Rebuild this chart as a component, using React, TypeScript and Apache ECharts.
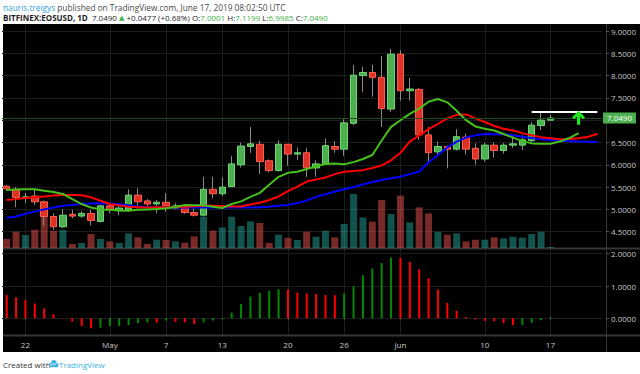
import React, { useEffect, useRef } from 'react';
import * as echarts from 'echarts';

// ---------- categories ----------
const dates = [
  'Apr 20','Apr 21','Apr 22','Apr 23','Apr 24','Apr 25','Apr 26','Apr 27','Apr 28','Apr 29','Apr 30',
  'May 1','May 2','May 3','May 4','May 5','May 6','May 7','May 8','May 9','May 10','May 11','May 12','May 13','May 14','May 15','May 16',
  'May 17','May 18','May 19','May 20','May 21','May 22','May 23','May 24','May 25','May 26','May 27','May 28','May 29','May 30','May 31',
  'Jun 1','Jun 2','Jun 3','Jun 4','Jun 5','Jun 6','Jun 7','Jun 8','Jun 9','Jun 10','Jun 11','Jun 12','Jun 13','Jun 14','Jun 15','Jun 16',
  'Jun 17','Jun 18','Jun 19','Jun 20','Jun 21','Jun 22'
];
const tickDates = ['Apr 22','May 1','May 7','May 13','May 20','May 26','Jun 1','Jun 10','Jun 17'];
const tickLabels = ['22','May','7','13','20','26','Jun','10','17'];

// ---------- EOSUSD daily candles (Apr 20 .. Jun 17) ----------
const opens = [
  5.52,5.45,5.27,5.30,5.17,4.84,4.61,4.89,4.85,4.91,
  4.73,5.08,4.97,4.99,5.32,5.19,5.12,5.16,5.03,5.08,
  4.93,4.87,5.45,5.35,5.51,6.00,6.41,6.46,6.09,5.87,
  6.46,6.24,6.27,5.93,6.02,6.41,6.35,6.93,8.00,8.07,
  7.96,7.25,8.48,7.66,7.69,6.67,6.29,6.41,6.35,6.62,
  6.37,6.13,6.44,6.32,6.44,6.44,6.54,6.88,7.0001
];
const closes = [
  5.46,5.27,5.28,5.17,4.84,4.61,4.87,4.85,4.91,4.75,
  5.08,4.99,5.03,5.32,5.17,5.12,5.16,5.08,5.08,4.93,
  4.87,5.45,5.35,5.50,6.02,6.42,6.47,6.07,5.87,6.46,
  6.24,6.27,5.93,6.02,6.43,6.35,6.94,8.01,8.07,7.96,
  7.26,8.48,7.66,7.70,6.67,6.27,6.41,6.35,6.63,6.35,
  6.13,6.44,6.32,6.44,6.47,6.56,6.89,7.00,7.049
];
const lows = [
  5.42,5.05,5.14,5.10,4.63,4.54,4.58,4.80,4.81,4.64,
  4.71,4.91,4.87,4.95,5.02,5.08,4.91,4.95,5.00,4.90,
  4.84,4.84,5.25,5.30,5.50,5.94,6.27,5.79,5.83,5.85,
  5.98,6.11,5.73,5.73,6.00,6.27,6.20,6.89,7.64,7.53,
  6.85,7.19,7.44,7.44,6.56,6.03,6.18,5.92,6.32,6.23,
  6.00,6.07,6.16,6.25,6.38,6.33,6.50,6.78,6.9985
];
const highs = [
  5.55,5.50,5.37,5.46,5.20,4.91,5.00,4.99,4.96,4.99,
  5.10,5.14,5.08,5.45,5.47,5.23,5.21,5.36,5.14,5.12,
  5.02,5.73,5.73,5.72,6.20,6.50,6.85,6.54,6.12,6.55,
  6.46,6.39,6.37,6.10,6.59,6.53,7.02,8.24,8.20,8.24,
  8.44,8.60,8.57,7.95,7.72,6.85,6.52,6.43,6.80,6.70,
  6.48,6.49,6.50,6.49,6.66,6.66,6.96,7.19,7.1199
];
const volumes = [
  0.90,1.63,1.30,1.83,3.56,1.73,1.80,0.40,0.50,1.40,
  0.90,0.66,0.50,1.46,1.06,0.40,0.83,0.80,0.66,0.53,
  1.16,3.13,1.73,2.06,3.13,2.20,2.66,2.50,0.50,1.33,
  1.00,0.80,1.63,1.13,1.73,1.06,2.40,5.40,3.06,2.63,
  4.80,3.40,5.23,2.56,4.06,3.46,1.63,1.33,1.46,0.66,
  0.83,0.83,1.06,0.96,1.13,1.03,1.40,1.63,0.10
];

// ---------- Williams Alligator (displaced) ----------
const lips = [
  5.435,5.446,5.45,5.45,5.42,5.39,5.345,5.23,5.12,5.04,
  5.00,4.99,4.975,4.97,4.99,5.00,5.01,5.025,5.055,5.10,
  5.09,5.09,5.06,5.03,5.12,5.18,5.28,5.37,5.55,5.73,
  5.82,5.845,5.905,5.96,6.02,6.03,6.01,6.06,6.13,6.22,
  6.545,6.85,7.00,7.14,7.26,7.415,7.475,7.40,7.21,7.00,
  6.86,6.81,6.77,6.69,6.61,6.53,6.48,6.47,6.47,6.52,
  6.60,6.71
];
const teeth = [
  5.21,5.23,5.255,5.27,5.29,5.31,5.32,5.32,5.315,5.27,
  5.195,5.12,5.09,5.06,5.05,5.04,5.045,5.05,5.055,5.06,
  5.07,5.08,5.08,5.075,5.065,5.065,5.11,5.15,5.21,5.29,
  5.41,5.51,5.625,5.67,5.715,5.79,5.845,5.86,5.88,5.93,
  5.985,6.10,6.27,6.52,6.66,6.80,6.915,7.04,7.12,7.13,
  7.04,6.96,6.87,6.81,6.77,6.71,6.66,6.62,6.595,6.57,
  6.58,6.595,6.63,6.69
];
const jaw = [
  4.81,4.84,4.90,4.95,5.00,5.04,5.08,5.10,5.12,5.13,
  5.135,5.13,5.115,5.09,5.065,5.055,5.045,5.045,5.04,5.04,
  5.04,5.04,5.045,5.04,5.04,5.04,5.04,5.05,5.06,5.08,
  5.10,5.14,5.20,5.28,5.34,5.40,5.45,5.50,5.56,5.615,
  5.66,5.70,5.73,5.79,5.85,6.05,6.22,6.39,6.52,6.61,
  6.66,6.69,6.685,6.685,6.66,6.63,6.60,6.57,6.555,6.54,
  6.53,6.52,6.515,6.51
];

// ---------- Awesome Oscillator ----------
const ao = [
  0.72,0.65,0.56,0.46,0.31,0.12,0.005,-0.10,-0.24,-0.31,
  -0.29,-0.24,-0.235,-0.21,-0.15,-0.13,-0.135,-0.07,-0.11,-0.13,
  -0.18,-0.13,-0.07,-0.02,0.18,0.44,0.67,0.79,0.85,0.90,
  0.89,0.80,0.77,0.75,0.72,0.715,0.77,0.99,1.33,1.54,
  1.71,1.88,1.87,1.75,1.52,1.24,0.89,0.48,0.23,0.04,
  -0.04,-0.08,-0.09,-0.15,-0.21,-0.20,-0.14,-0.06,0.03
];

// ---------- drawings ----------
const lastPrice = 7.049;
const resistanceLevel = 7.19;
const resistanceFrom = 'Jun 15';
const resistanceTo = 'Jun 22';
const arrowDate = 'Jun 20';
const arrowPrice = 7.056;

const FONT = '"Open Sans", "DejaVu Sans", sans-serif';
const UP = '#4caf50';
const DOWN = '#dd3327';

const cloudPath =
  'M3 8 C1.2 8 0 6.8 0 5.5 C0 4.2 1 3.2 2.3 3.2 C2.8 1.3 4.3 0 6.2 0 C8.3 0 9.9 1.5 10.1 3.4 C11.2 3.6 12 4.5 12 5.7 C12 7 11 8 9.7 8 Z';
try {
  echarts.graphic.registerShape('tvcloud', echarts.graphic.extendPath(cloudPath, {}) as any);
} catch (e) {}

export default function App() {
  const ref = useRef<HTMLDivElement>(null);

  useEffect(() => {
    if (!ref.current) return;
    const chart = echarts.init(ref.current, undefined, { renderer: 'svg' });

    const tickIdx = new Set(tickDates.map((d) => dates.indexOf(d)));
    const labelFor = (i: number) => tickLabels[tickDates.indexOf(dates[i])];

    const wickData = opens.map((o, i) => [o, closes[i], lows[i], highs[i]]);
    const bodyData = opens.map((o, i) => [o, closes[i], Math.min(o, closes[i]), Math.max(o, closes[i])]);
    const volData = volumes.map((v, i) => ({
      value: v,
      itemStyle: { color: closes[i] >= opens[i] ? 'rgba(38,166,154,0.5)' : 'rgba(239,83,80,0.5)' },
    }));
    const aoData = ao.map((v, i) => ({
      value: v,
      itemStyle: { color: i > 0 && v >= ao[i - 1] ? '#008a00' : '#ff0000' },
    }));

    const axisLabelStyle = { color: '#c8c8c8', fontSize: 8, fontFamily: FONT };

    const option: any = {
      animation: false,
      textStyle: { fontFamily: FONT },
      grid: [
        { left: 2, top: 24, width: 600, height: 224 },
        { left: 2, top: 148, width: 600, height: 100 },
        { left: 2, top: 250, width: 600, height: 85 },
      ],
      xAxis: [
        { type: 'category', gridIndex: 0, data: dates, boundaryGap: true, axisLine: { show: false }, axisTick: { show: false }, axisLabel: { show: false }, splitLine: { show: false } },
        { type: 'category', gridIndex: 1, data: dates, boundaryGap: true, show: false },
        {
          type: 'category', gridIndex: 2, data: dates, boundaryGap: true,
          axisLine: { show: false },
          axisTick: { show: true, alignWithLabel: true, length: 2, interval: (i: number) => tickIdx.has(i), lineStyle: { color: '#555' } },
          axisLabel: { ...axisLabelStyle, margin: 5, interval: (i: number) => tickIdx.has(i), formatter: (_v: string, i: number) => labelFor(i) || '' },
          splitLine: { show: false },
        },
      ],
      yAxis: [
        {
          type: 'value', gridIndex: 0, position: 'right', offset: 4,
          min: 4.134, max: 9.157, splitNumber: 10, minInterval: 0.5, maxInterval: 0.5,
          axisLine: { show: false },
          axisTick: { show: true, length: 3, lineStyle: { color: '#555' } },
          axisLabel: {
            ...axisLabelStyle, margin: 5, showMinLabel: false, showMaxLabel: false,
            // the last-price tag covers the nearest tick label, as on the reference
            formatter: (v: number) => (Math.abs(v - lastPrice) < 0.15 ? '' : v.toFixed(4)),
          },
          splitLine: { show: true, showMinLine: false, showMaxLine: false, lineStyle: { color: '#1c1c1c', width: 1 } },
        },
        { type: 'value', gridIndex: 1, min: 0, max: 10, show: false },
        {
          type: 'value', gridIndex: 2, position: 'right', offset: 4,
          min: -0.517, max: 2.115, splitNumber: 3, minInterval: 1, maxInterval: 1,
          axisLine: { show: false },
          axisTick: { show: true, length: 3, lineStyle: { color: '#555' } },
          axisLabel: { ...axisLabelStyle, margin: 5, showMinLabel: false, showMaxLabel: false, formatter: (v: number) => v.toFixed(4) },
          splitLine: { show: true, showMinLine: false, showMaxLine: false, lineStyle: { color: '#1c1c1c', width: 1 } },
        },
      ],
      series: [
        { name: 'Volume', type: 'bar', xAxisIndex: 1, yAxisIndex: 1, data: volData, barWidth: 7, z: 1 },
        {
          name: 'Wick', type: 'candlestick', xAxisIndex: 0, yAxisIndex: 0, data: wickData, barWidth: 1, z: 2,
          itemStyle: { color: '#8a8a8a', color0: '#8a8a8a', borderColor: '#8a8a8a', borderColor0: '#8a8a8a', borderWidth: 1 },
        },
        {
          name: 'EOSUSD', type: 'candlestick', xAxisIndex: 0, yAxisIndex: 0, data: bodyData, barWidth: 7, z: 3,
          itemStyle: { color: UP, color0: DOWN, borderColor: '#6fd672', borderColor0: '#ff5e4f', borderWidth: 1 },
          markLine: {
            silent: true, symbol: 'none', animation: false,
            data: [
              {
                yAxis: lastPrice,
                lineStyle: { color: '#1f4f1f', width: 1, type: 'solid' },
                label: {
                  show: true, position: 'end', distance: 1, formatter: lastPrice.toFixed(4),
                  color: '#ffffff', backgroundColor: UP, padding: [2, 4, 1, 4], fontSize: 8, fontFamily: FONT,
                },
              },
              [
                { coord: [resistanceFrom, resistanceLevel], lineStyle: { color: '#ffffff', width: 2, type: 'solid' }, label: { show: false } },
                { coord: [resistanceTo, resistanceLevel] },
              ],
            ],
          },
          markPoint: {
            silent: true, animation: false,
            data: [
              {
                coord: [arrowDate, arrowPrice],
                symbol: 'path://M6.5 0 L13 6.5 L10.8 8.6 L8.1 5.9 L8.1 14 L4.9 14 L4.9 5.9 L2.2 8.6 L0 6.5 Z',
                symbolSize: [13, 14],
                itemStyle: { color: '#22e422' },
                label: { show: false },
              },
            ],
          },
        },
        { name: 'Jaw', type: 'line', xAxisIndex: 0, yAxisIndex: 0, data: jaw, symbol: 'none', z: 4, lineStyle: { color: '#0000ff', width: 2 } },
        { name: 'Teeth', type: 'line', xAxisIndex: 0, yAxisIndex: 0, data: teeth, symbol: 'none', z: 4, lineStyle: { color: '#ff0000', width: 2 } },
        { name: 'Lips', type: 'line', xAxisIndex: 0, yAxisIndex: 0, data: lips, symbol: 'none', z: 4, lineStyle: { color: '#48c01a', width: 2 } },
        { name: 'AO', type: 'bar', xAxisIndex: 2, yAxisIndex: 2, data: aoData, barWidth: 2, z: 2 },
      ],
    };

    chart.setOption(option);

    const vLines = tickDates.map((d) => {
      const x = Math.round(chart.convertToPixel({ xAxisIndex: 0 }, dates.indexOf(d)) as number) + 0.5;
      return { type: 'line', silent: true, z: -5, shape: { x1: x, y1: 24, x2: x, y2: 335 }, style: { stroke: '#1d1d1d', lineWidth: 1 } };
    });

    chart.setOption({
      graphic: [
        { type: 'rect', silent: true, z: -10, shape: { x: 3, y: 24, width: 637, height: 328 }, style: { fill: '#000000' } },
        ...vLines,
        { type: 'line', silent: true, z: -4, shape: { x1: 3, y1: 248.5, x2: 640, y2: 248.5 }, style: { stroke: '#363636', lineWidth: 2 } },
        { type: 'line', silent: true, z: -4, shape: { x1: 3, y1: 335.5, x2: 640, y2: 335.5 }, style: { stroke: '#363636', lineWidth: 2 } },
        { type: 'line', silent: true, z: -4, shape: { x1: 606.5, y1: 24, x2: 606.5, y2: 352 }, style: { stroke: '#363636', lineWidth: 1 } },
        {
          type: 'text', silent: true, x: 3, y: 7,
          style: {
            text: '{u|nauris.treigys} {g|published on TradingView.com, June 17, 2019 08:02:50 UTC}',
            verticalAlign: 'middle', fontFamily: FONT, fontSize: 8.3,
            rich: {
              u: { fill: '#2e9fd8', fontSize: 8.3, fontFamily: FONT },
              g: { fill: '#4a4a4a', fontSize: 8.3, fontFamily: FONT },
            },
          },
        },
        {
          type: 'text', silent: true, x: 3, y: 17.5,
          style: {
            text: '{b|BITFINEX:EOSUSD, 1D}  {n|7.0490} {up|▲} {n|+0.0477 (+0.68%)} {k|O:}{v|7.0001} {k|H:}{v|7.1199} {k|L:}{v|6.9985} {k|C:}{v|7.0490}',
            verticalAlign: 'middle', fontFamily: FONT, fontSize: 8,
            rich: {
              b: { fill: '#1e1e1e', fontWeight: 'bold', fontSize: 8, fontFamily: FONT },
              n: { fill: '#1e1e1e', fontSize: 8, fontFamily: FONT },
              up: { fill: '#3fae49', fontSize: 7, fontFamily: FONT },
              k: { fill: '#1e1e1e', fontSize: 8, fontFamily: FONT },
              v: { fill: '#3fae49', fontSize: 8, fontFamily: FONT },
            },
          },
        },
        {
          type: 'text', silent: true, x: 3, y: 364,
          style: { text: 'Created with', fill: '#333333', fontSize: 8, fontFamily: FONT, verticalAlign: 'middle' },
        },
        { type: 'tvcloud', silent: true, x: 49, y: 360, scaleX: 0.8, scaleY: 0.9, style: { fill: '#3bb3e4' } },
        {
          type: 'polyline', silent: true,
          shape: { points: [[50.5, 366], [52.5, 363.5], [54.3, 365], [57, 362.5]] },
          style: { stroke: '#ffffff', lineWidth: 1, fill: 'none' },
        },
        {
          type: 'text', silent: true, x: 59, y: 364,
          style: { text: 'TradingView', fill: '#3bb3e4', fontSize: 8, fontFamily: FONT, verticalAlign: 'middle' },
        },
      ],
    });

    return () => chart.dispose();
  }, []);

  return (
    <div style={{ position: 'absolute', left: 0, top: 0, width: 640, height: 374, background: '#ffffff' }}>
      <div ref={ref} style={{ width: 640, height: 374 }} />
    </div>
  );
}
